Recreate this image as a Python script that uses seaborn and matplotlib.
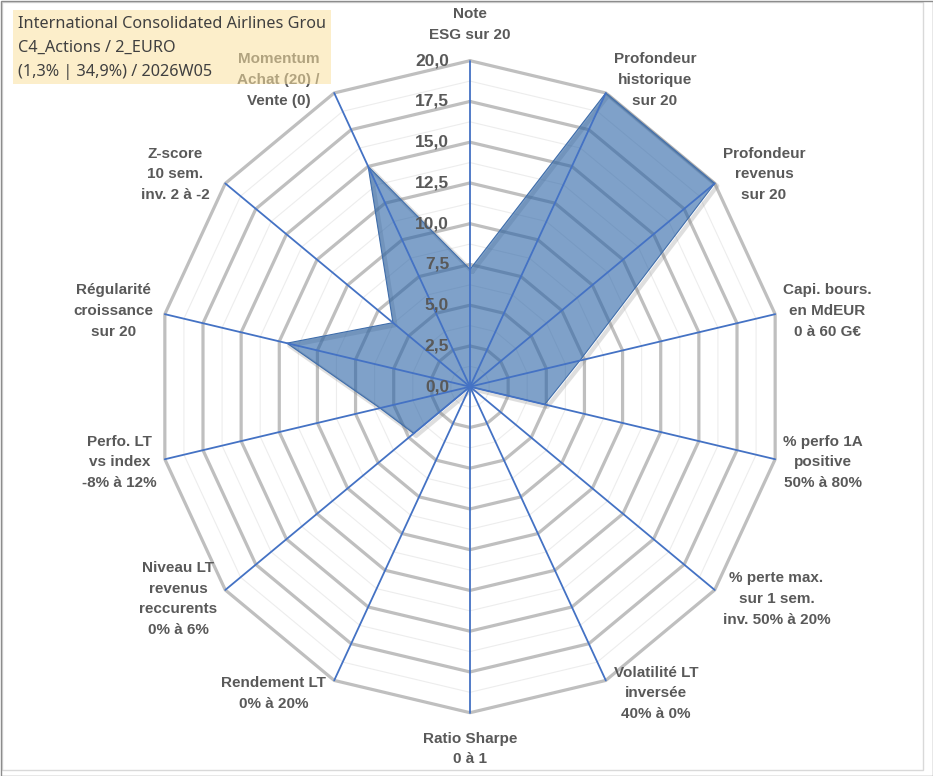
import numpy as np
import pandas as pd
import matplotlib
matplotlib.use("Agg")
import matplotlib.pyplot as plt
from matplotlib.patches import Rectangle
import seaborn as sns

# axes of the radar, clockwise from the top
categories = ["Note\nESG sur 20",
              "Profondeur\nhistorique\nsur 20",
              "Profondeur\nrevenus\nsur 20",
              "Capi. bours.\nen MdEUR\n0 à 60 G€",
              "% perfo 1A\npositive\n50% à 80%",
              "% perte max.\nsur 1 sem.\ninv. 50% à 20%",
              "Volatilité LT\ninversée\n40% à 0%",
              "Ratio Sharpe\n0 à 1",
              "Rendement LT\n0% à 20%",
              "Niveau LT\nrevenus\nreccurents\n0% à 6%",
              "Perfo. LT\nvs index\n-8% à 12%",
              "Régularité\ncroissance\nsur 20",
              "Z-score\n10 sem.\ninv. 2 à -2",
              "Momentum\nAchat (20) /\nVente (0)"]
values = [7.2, 20.0, 20.0, 7.2, 4.9, 0.0, 0.0, 0.0, 0.0, 4.6, 5.9, 12.0, 6.3, 15.0]
ticks = [0.0, 2.5, 5.0, 7.5, 10.0, 12.5, 15.0, 17.5, 20.0]
tick_labels = ["0,0", "2,5", "5,0", "7,5", "10,0", "12,5", "15,0", "17,5", "20,0"]
title_lines = ["International Consolidated Airlines Grou",
               "C4_Actions / 2_EURO",
               "(1,3% | 34,9%) / 2026W05"]

sns.set_theme(style="white")
plt.rcParams['font.family'] = ['Liberation Sans', 'DejaVu Sans']

W, H = 933, 776
fig = plt.figure(figsize=(W / 100, H / 100), dpi=100)
ax = fig.add_axes([0, 0, 1, 1])
# pixel scale: centre at (470, 386.7), 15.65 px/unit across, 16.3 px/unit up
cx, cy, sx, sy = 470, 386.7, 15.65, 16.3
ax.set_xlim(-cx / sx, (W - cx) / sx)
ax.set_ylim(-(H - cy) / sy, cy / sy)
ax.axis("off")

n = len(categories)
theta = np.arange(n) * 2 * np.pi / n
ring = np.append(theta, theta[0])

# grid rings
for r in np.arange(1.25, 20.01, 1.25):
    major = abs(r / 2.5 - round(r / 2.5)) < 1e-6
    ax.plot(r * np.sin(ring), r * np.cos(ring),
            color="#BFBFBF" if major else "#EDEDED",
            lw=2.3 if major else 0.8, zorder=1)

# data polygon
vals = np.array(values + values[:1])
df = pd.DataFrame({"x": vals * np.sin(ring), "y": vals * np.cos(ring)})
# soft shadow along the outline
ax.plot(df["x"] + 2.5 / sx, df["y"] - 2.5 / sy, color="#7F7F7F", alpha=0.25, lw=3,
        solid_joinstyle="round", zorder=2)
ax.fill(df["x"], df["y"], color="#2A63A6", alpha=0.6, lw=0, zorder=3)
sns.lineplot(data=df, x="x", y="y", sort=False, estimator=None, ax=ax,
             color="#3F6DAA", lw=0.8, zorder=3)

# spokes
for t in theta:
    ax.plot([0, 20 * np.sin(t)], [0, 20 * np.cos(t)], color="#4472C4", lw=1.3, zorder=4)

# category labels
for t, lab in zip(theta, categories):
    s, c = np.sin(t), np.cos(t)
    end = (20 * s, 20 * c)
    if abs(s) < 1e-6:
        off = (0, 19) if c > 0 else (0, -19)
        ha, va = "center", "bottom" if c > 0 else "top"
    else:
        pad = 8 + (16 * c * abs(s) if (s < 0 and c > 0) else 0)
        off = (pad * np.sign(s), 14.5 * c)
        ha, va = ("left" if s > 0 else "right"), "center"
    ax.annotate(lab, end, xytext=off, textcoords="offset pixels", ha=ha, va=va,
                multialignment="center", fontsize=11, fontweight="bold",
                color="#595959", linespacing=1.6, zorder=5)

# radial tick labels
for r, tl in zip(ticks, tick_labels):
    ax.annotate(tl, (0, r), xytext=(-21, 0), textcoords="offset pixels",
                ha="right", va="center", fontsize=12.5, fontweight="bold",
                color="#595959", zorder=6)

# title box, drawn over the chart
fig.patches.append(Rectangle((13 / W, 1 - 84 / H), 318 / W, 74 / H, transform=fig.transFigure,
                             facecolor="#FBE1A0", alpha=0.55, edgecolor="none", zorder=10))
for i, line in enumerate(title_lines):
    fig.text(18 / W, 1 - (24 + 24 * i) / H, line, ha="left", va="center",
             fontsize=11.7, color="#404040", family=["Noto Sans", "DejaVu Sans"], zorder=11)

# chart frame and outer frame
fig.patches.append(Rectangle((2 / W, 1 - 770 / H), 921 / W, 768 / H, transform=fig.transFigure,
                             fill=False, edgecolor="#D9D9D9", lw=1.0))
fig.patches.append(Rectangle((0.5 / W, 0.5 / H), (W - 1) / W, (H - 1) / H, transform=fig.transFigure,
                             fill=False, edgecolor="#8C8C8C", lw=1.0))

fig.savefig("out.png", dpi=100)
